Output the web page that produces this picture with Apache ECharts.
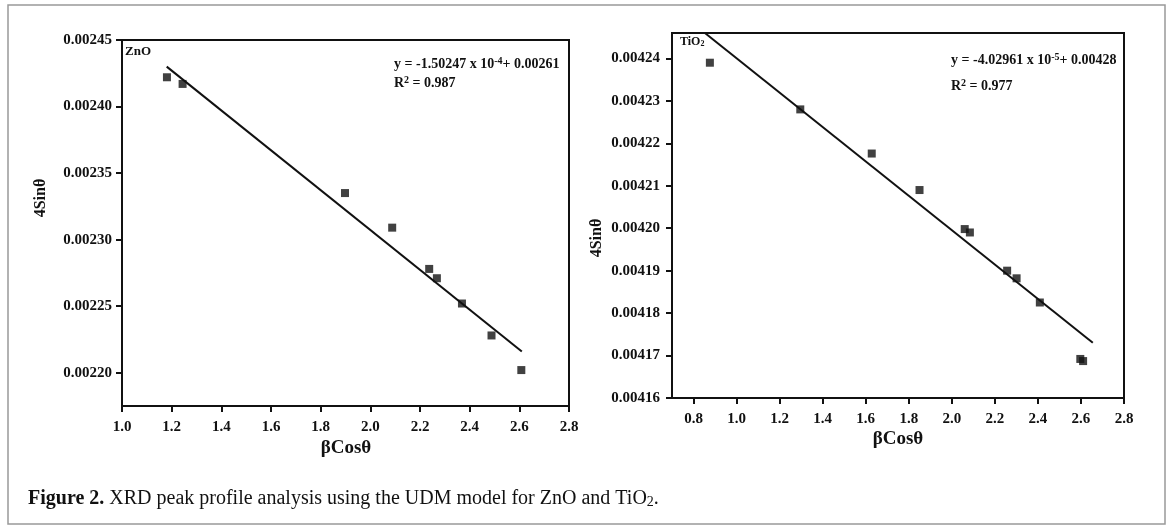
<!DOCTYPE html>
<html>
<head>
<meta charset="utf-8">
<script src="https://cdn.jsdelivr.net/npm/echarts@6/dist/echarts.min.js"></script>
<style>
    html, body { margin: 0; padding: 0; background: #fff; }
    #chart { width: 1171px; height: 528px; }
</style>
</head>
<body>
<div id="chart"></div>
<script>
    // ZnO points (βCosθ, 4Sinθ)
    var znoX = [1.181, 1.244, 1.898, 2.088, 2.237, 2.268, 2.369, 2.488, 2.608];
    var znoY = [0.002422, 0.002417, 0.002335, 0.002309, 0.002278, 0.002271, 0.002252, 0.002228, 0.002202];
    // linear fit, end points
    var znoFitX = [1.18, 2.61];
    var znoFitY = [0.002430, 0.002216];

    // TiO2 points
    var tioX = [0.876, 1.296, 1.628, 1.850, 2.060, 2.084, 2.257, 2.301, 2.409, 2.597, 2.61];
    var tioY = [0.004239, 0.004228, 0.0042176, 0.004209, 0.0041998, 0.004199, 0.004190, 0.0041882, 0.0041825, 0.0041692, 0.0041687];
    var tioFitX = [0.853, 2.655];
    var tioFitY = [0.004246, 0.004173];

    // tick labels
    var znoYTicks = [0.00220, 0.00225, 0.00230, 0.00235, 0.00240, 0.00245];
    var znoXTicks = [1.0, 1.2, 1.4, 1.6, 1.8, 2.0, 2.2, 2.4, 2.6, 2.8];
    var tioYTicks = [0.00416, 0.00417, 0.00418, 0.00419, 0.00420, 0.00421, 0.00422, 0.00423, 0.00424];
    var tioXTicks = [0.8, 1.0, 1.2, 1.4, 1.6, 1.8, 2.0, 2.2, 2.4, 2.6, 2.8];

    function pairs(xs, ys) {
        return xs.map(function (x, i) { return [x, ys[i]]; });
    }

    var serif = '"Liberation Serif", "DejaVu Serif", serif';
    var black = '#111';
    var supStyle = { fontSize: 10, fontWeight: 'bold', fontFamily: serif, verticalAlign: 'top', padding: [0, 0, 7, 0] };

    function xAxisOf(grid, min, max, ticks, margin) {
        return {
            type: 'value', gridIndex: grid, min: min, max: max,
            axisLine: { show: true, lineStyle: { color: black, width: 2 } },
            axisTick: { show: true, customValues: ticks, length: 6, lineStyle: { color: black, width: 2 } },
            axisLabel: {
                customValues: ticks, margin: margin,
                color: black, fontFamily: serif, fontWeight: 'bold', fontSize: 15,
                formatter: function (v) { return v.toFixed(1); }
            },
            splitLine: { show: false }
        };
    }

    function yAxisOf(grid, min, max, ticks, margin) {
        return {
            type: 'value', gridIndex: grid, min: min, max: max,
            axisLine: { show: true, lineStyle: { color: black, width: 2 } },
            axisTick: { show: true, customValues: ticks, length: 6, lineStyle: { color: black, width: 2 } },
            axisLabel: {
                customValues: ticks, margin: margin,
                color: black, fontFamily: serif, fontWeight: 'bold', fontSize: 15,
                formatter: function (v) { return v.toFixed(5); }
            },
            splitLine: { show: false }
        };
    }

    var chart = echarts.init(document.getElementById('chart'));
    chart.setOption({
        animation: false,
        backgroundColor: '#fff',
        grid: [
            { left: 122, top: 40, width: 447, height: 366, show: true, borderColor: black, borderWidth: 2 },
            { left: 672, top: 33, width: 452, height: 365, show: true, borderColor: black, borderWidth: 2 }
        ],
        xAxis: [
            xAxisOf(0, 1.0, 2.8, znoXTicks, 14),
            xAxisOf(1, 0.7, 2.8, tioXTicks, 14)
        ],
        yAxis: [
            yAxisOf(0, 0.002175, 0.00245, znoYTicks, 10),
            yAxisOf(1, 0.00416, 0.004246, tioYTicks, 12)
        ],
        series: [
            {
                type: 'scatter', xAxisIndex: 0, yAxisIndex: 0,
                symbol: 'rect', symbolSize: 8, itemStyle: { color: black },
                data: pairs(znoX, znoY)
            },
            {
                type: 'line', xAxisIndex: 0, yAxisIndex: 0,
                symbol: 'none', lineStyle: { color: black, width: 2 },
                data: pairs(znoFitX, znoFitY)
            },
            {
                type: 'scatter', xAxisIndex: 1, yAxisIndex: 1,
                symbol: 'rect', symbolSize: 8, itemStyle: { color: black },
                data: pairs(tioX, tioY)
            },
            {
                type: 'line', xAxisIndex: 1, yAxisIndex: 1,
                symbol: 'none', lineStyle: { color: black, width: 2 },
                data: pairs(tioFitX, tioFitY)
            }
        ],
        graphic: [
            // outer frame
            {
                type: 'rect', shape: { x: 8, y: 5, width: 1157, height: 519 },
                style: { fill: 'none', stroke: '#999', lineWidth: 1.5 }
            },
            // ZnO panel texts
            {
                type: 'text', left: 125, top: 45,
                style: { text: 'ZnO', font: 'bold 13px ' + serif, fill: black }
            },
            {
                type: 'text', left: 394, top: 56,
                style: {
                    text: 'y = -1.50247 x 10{s|-4}+ 0.00261',
                    font: 'bold 14px ' + serif, fill: black,
                    rich: { s: supStyle }
                }
            },
            {
                type: 'text', left: 394, top: 75,
                style: {
                    text: 'R{s|2} = 0.987',
                    font: 'bold 14px ' + serif, fill: black,
                    rich: { s: supStyle }
                }
            },
            {
                type: 'text', x: 41, y: 198, rotation: Math.PI / 2,
                style: { text: '4Sinθ', font: 'bold 16px ' + serif, fill: black, align: 'center', verticalAlign: 'middle' }
            },
            {
                type: 'text', x: 346, y: 448,
                style: { text: 'βCosθ', font: 'bold 19px ' + serif, fill: black, align: 'center', verticalAlign: 'middle' }
            },
            // TiO2 panel texts
            {
                type: 'text', left: 680, top: 36,
                style: {
                    text: 'TiO{d|2}', font: 'bold 12px ' + serif, fill: black,
                    rich: { d: { fontSize: 8, fontWeight: 'bold', fontFamily: serif, verticalAlign: 'bottom', padding: [4, 0, 0, 0] } }
                }
            },
            {
                type: 'text', left: 951, top: 52,
                style: {
                    text: 'y = -4.02961 x 10{s|-5}+ 0.00428',
                    font: 'bold 14px ' + serif, fill: black,
                    rich: { s: supStyle }
                }
            },
            {
                type: 'text', left: 951, top: 78,
                style: {
                    text: 'R{s|2} = 0.977',
                    font: 'bold 14px ' + serif, fill: black,
                    rich: { s: supStyle }
                }
            },
            {
                type: 'text', x: 597, y: 238, rotation: Math.PI / 2,
                style: { text: '4Sinθ', font: 'bold 16px ' + serif, fill: black, align: 'center', verticalAlign: 'middle' }
            },
            {
                type: 'text', x: 898, y: 439,
                style: { text: 'βCosθ', font: 'bold 19px ' + serif, fill: black, align: 'center', verticalAlign: 'middle' }
            },
            // caption
            {
                type: 'text', left: 28, top: 489,
                style: {
                    text: '{b|Figure 2.} XRD peak profile analysis using the UDM model for ZnO and TiO{d|2}.',
                    font: '20px ' + serif, fill: black,
                    rich: {
                        b: { fontSize: 20, fontWeight: 'bold', fontFamily: serif },
                        d: { fontSize: 14, fontFamily: serif, verticalAlign: 'bottom', padding: [7, 0, 0, 0] }
                    }
                }
            }
        ]
    });
</script>
</body>
</html>
